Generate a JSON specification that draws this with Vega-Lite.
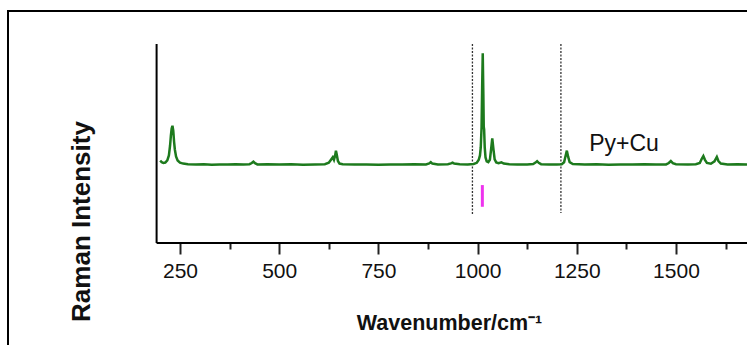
{
  "$schema": "https://vega.github.io/schema/vega-lite/v6.json",
  "width": 739,
  "height": 334,
  "autosize": {"type": "none"},
  "padding": {"left": 8, "top": 11, "right": 0, "bottom": 0},
  "background": "white",
  "config": {
    "view": {"stroke": "#000", "strokeWidth": 2, "strokeDash": [739, 1073, 334]}
  },
  "datasets": {
    "spectrum": [
      {"w": 200, "i": 41.4}, {"w": 204, "i": 40.6}, {"w": 208, "i": 40.2}, {"w": 213, "i": 40.4},
      {"w": 218, "i": 41.5}, {"w": 222, "i": 44}, {"w": 225, "i": 49}, {"w": 227, "i": 54},
      {"w": 229, "i": 57.5}, {"w": 231, "i": 58.9}, {"w": 233, "i": 56.5}, {"w": 235, "i": 51},
      {"w": 237, "i": 47}, {"w": 240, "i": 43.5}, {"w": 244, "i": 41.5}, {"w": 250, "i": 40.4},
      {"w": 258, "i": 39.9}, {"w": 270, "i": 39.6}, {"w": 290, "i": 39.4}, {"w": 310, "i": 39.6},
      {"w": 330, "i": 39.3}, {"w": 350, "i": 39.5}, {"w": 370, "i": 39.4}, {"w": 390, "i": 39.6},
      {"w": 410, "i": 39.4}, {"w": 425, "i": 39.6}, {"w": 431, "i": 40.2}, {"w": 435, "i": 40.9},
      {"w": 439, "i": 40.1}, {"w": 445, "i": 39.5}, {"w": 470, "i": 39.6}, {"w": 500, "i": 39.4},
      {"w": 530, "i": 39.6}, {"w": 560, "i": 39.3}, {"w": 590, "i": 39.5}, {"w": 615, "i": 39.6},
      {"w": 625, "i": 40.3}, {"w": 631, "i": 42}, {"w": 635, "i": 43.1}, {"w": 638, "i": 41.8},
      {"w": 641, "i": 44}, {"w": 643, "i": 46.4}, {"w": 645, "i": 44.5}, {"w": 648, "i": 41.2},
      {"w": 652, "i": 39.9}, {"w": 660, "i": 39.6}, {"w": 690, "i": 39.4}, {"w": 720, "i": 39.5},
      {"w": 750, "i": 39.3}, {"w": 780, "i": 39.5}, {"w": 810, "i": 39.4}, {"w": 840, "i": 39.6},
      {"w": 870, "i": 39.5}, {"w": 878, "i": 40}, {"w": 882, "i": 40.6}, {"w": 886, "i": 39.9},
      {"w": 900, "i": 39.5}, {"w": 925, "i": 39.6}, {"w": 933, "i": 40}, {"w": 937, "i": 40.4},
      {"w": 941, "i": 39.9}, {"w": 955, "i": 39.6}, {"w": 975, "i": 39.5}, {"w": 990, "i": 39.7},
      {"w": 998, "i": 40.3}, {"w": 1003, "i": 41.8}, {"w": 1006, "i": 44}, {"w": 1008, "i": 48},
      {"w": 1010, "i": 58}, {"w": 1011.5, "i": 78}, {"w": 1013, "i": 95.3}, {"w": 1014.5, "i": 75},
      {"w": 1015.5, "i": 58.5}, {"w": 1016.5, "i": 57}, {"w": 1018, "i": 48}, {"w": 1020, "i": 43},
      {"w": 1023, "i": 41}, {"w": 1027, "i": 40.6}, {"w": 1031, "i": 41.8}, {"w": 1034, "i": 47},
      {"w": 1037, "i": 52.6}, {"w": 1040, "i": 47}, {"w": 1043, "i": 42}, {"w": 1047, "i": 40.5},
      {"w": 1053, "i": 40.1}, {"w": 1060, "i": 40.5}, {"w": 1066, "i": 39.9}, {"w": 1080, "i": 39.6},
      {"w": 1100, "i": 39.5}, {"w": 1125, "i": 39.4}, {"w": 1140, "i": 39.7}, {"w": 1146, "i": 40.4},
      {"w": 1150, "i": 41.1}, {"w": 1154, "i": 40.3}, {"w": 1160, "i": 39.6}, {"w": 1180, "i": 39.5},
      {"w": 1200, "i": 39.4}, {"w": 1212, "i": 39.6}, {"w": 1218, "i": 40.6}, {"w": 1222, "i": 44},
      {"w": 1225, "i": 46.4}, {"w": 1228, "i": 43.5}, {"w": 1232, "i": 40.6}, {"w": 1240, "i": 39.7},
      {"w": 1270, "i": 39.4}, {"w": 1300, "i": 39.6}, {"w": 1330, "i": 39.3}, {"w": 1360, "i": 39.5},
      {"w": 1390, "i": 39.4}, {"w": 1420, "i": 39.6}, {"w": 1450, "i": 39.4}, {"w": 1475, "i": 39.5},
      {"w": 1482, "i": 40.2}, {"w": 1487, "i": 41.2}, {"w": 1492, "i": 40.1}, {"w": 1500, "i": 39.6},
      {"w": 1530, "i": 39.4}, {"w": 1550, "i": 39.6}, {"w": 1560, "i": 40.2}, {"w": 1565, "i": 42.3},
      {"w": 1569, "i": 43.7}, {"w": 1573, "i": 41.8}, {"w": 1578, "i": 40.2}, {"w": 1588, "i": 39.8},
      {"w": 1597, "i": 41}, {"w": 1603, "i": 43.2}, {"w": 1607, "i": 41.2}, {"w": 1613, "i": 39.9},
      {"w": 1630, "i": 39.5}, {"w": 1655, "i": 39.6}, {"w": 1679, "i": 39.5}
    ],
    "axislines": [
      {"w": 191, "w2": 1679, "i": 0, "i2": 0},
      {"w": 191, "w2": 191, "i": 0, "i2": 100}
    ],
    "markers": [
      {"w": 987, "i": 100, "i2": 14.1},
      {"w": 1210, "i": 100, "i2": 15.1}
    ],
    "reference": [
      {"w": 1012, "i": 29.1, "i2": 18.2}
    ],
    "labels": [
      {"w": 1369, "i": 46.2, "t": "Py+Cu"}
    ]
  },
  "encoding": {
    "x": {
      "field": "w",
      "type": "quantitative",
      "scale": {"domain": [-183.5, 1679], "nice": false, "zero": false},
      "axis": {
        "values": [250, 375, 500, 625, 750, 875, 1000, 1125, 1250, 1375, 1500, 1625],
        "format": "d",
        "labelExpr": "datum.value % 250 === 0 ? datum.label : ''",
        "domain": false,
        "grid": false,
        "offset": -102,
        "tickSize": {"condition": {"test": "datum.value % 250 === 0", "value": 11}, "value": 6},
        "tickWidth": 2,
        "tickColor": "#222",
        "labelFont": "Liberation Sans",
        "labelFontSize": 21,
        "labelColor": "#111",
        "labelPadding": 6,
        "title": "Wavenumber/cm⁻¹",
        "titleFont": "Liberation Sans",
        "titleFontWeight": "bold",
        "titleFontSize": 21.5,
        "titleColor": "#111",
        "titleX": 441,
        "titleY": 86,
        "titleAlign": "center",
        "titleBaseline": "alphabetic"
      }
    },
    "y": {
      "field": "i",
      "type": "quantitative",
      "scale": {"domain": [-51.26, 116.58], "nice": false, "zero": false},
      "axis": {
        "domain": false,
        "ticks": false,
        "labels": false,
        "grid": false,
        "title": "Raman Intensity",
        "titleFont": "Liberation Sans",
        "titleFontWeight": "bold",
        "titleFontSize": 26,
        "titleColor": "#111",
        "titleAngle": -90,
        "titleX": 73,
        "titleY": 210,
        "titleAlign": "center",
        "titleBaseline": "middle"
      }
    }
  },
  "layer": [
    {
      "data": {"name": "axislines"},
      "mark": {"type": "rule", "color": "#000", "strokeWidth": 2},
      "encoding": {"x2": {"field": "w2"}, "y2": {"field": "i2"}}
    },
    {
      "data": {"name": "markers"},
      "mark": {"type": "rule", "color": "#333", "strokeWidth": 1.3, "strokeDash": [2, 1.5]},
      "encoding": {"y2": {"field": "i2"}}
    },
    {
      "data": {"name": "reference"},
      "mark": {"type": "rule", "color": "#ee33ee", "strokeWidth": 3},
      "encoding": {"y2": {"field": "i2"}}
    },
    {
      "data": {"name": "spectrum"},
      "mark": {"type": "line", "color": "#1d7a1d", "strokeWidth": 2.5}
    },
    {
      "data": {"name": "labels"},
      "mark": {"type": "text", "font": "Liberation Sans", "fontSize": 23, "color": "#111", "align": "center", "baseline": "alphabetic"},
      "encoding": {"text": {"field": "t"}}
    }
  ]
}
